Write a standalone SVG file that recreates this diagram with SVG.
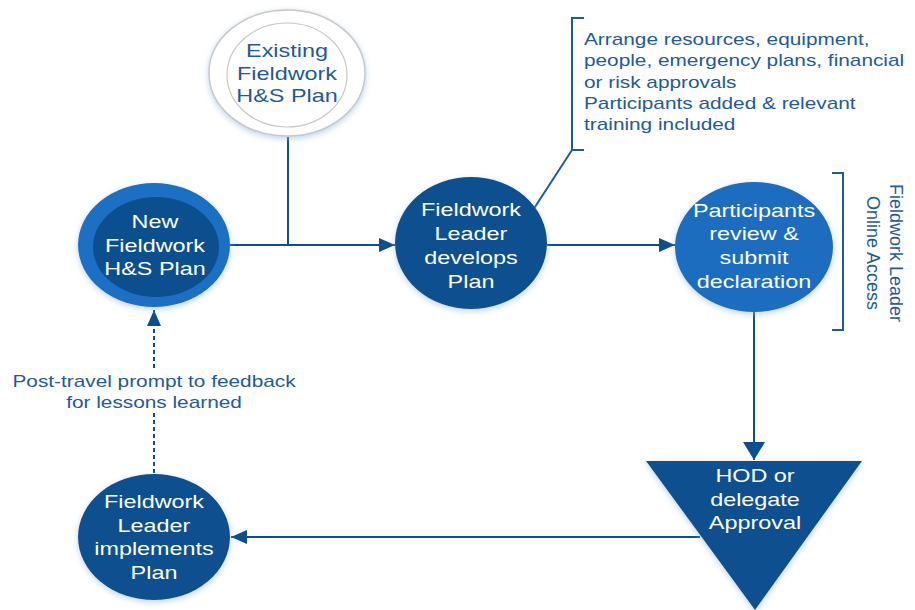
<svg xmlns="http://www.w3.org/2000/svg" width="915" height="610" viewBox="0 0 915 610">
<style>
.lbl{font-family:"Liberation Sans",Arial,sans-serif;font-size:18px;fill:#ffffff;text-anchor:middle}
.dk{fill:#1F5A99}
.ann{font-family:"Liberation Sans",Arial,sans-serif;font-size:16px;fill:#1F5A99}
.ln{fill:none;stroke:#0B4F8F;stroke-width:2}
.br{fill:none;stroke:#1F5A99;stroke-width:2}
</style>
<defs>
<marker id="ah" viewBox="0 0 16 14" refX="16" refY="7" markerWidth="16" markerHeight="14" markerUnits="userSpaceOnUse" orient="auto">
<path d="M0,0 L16,7 L0,14 Z" fill="#0B4F8F"/>
</marker>
<marker id="ahb" viewBox="0 0 18 22" refX="18" refY="11" markerWidth="18" markerHeight="22" markerUnits="userSpaceOnUse" orient="auto">
<path d="M0,0 L18,11 L0,22 Z" fill="#0B4F8F"/>
</marker>
<filter id="sh" x="-20%" y="-20%" width="140%" height="140%">
<feDropShadow dx="0" dy="2" stdDeviation="3" flood-color="#8fb6e0" flood-opacity="0.6"/>
</filter>
</defs>

<g id="connectors">
<line class="ln" x1="288" y1="137" x2="288" y2="245"/>
<line class="ln" x1="230" y1="245" x2="395" y2="245" marker-end="url(#ah)"/>
<line class="ln" x1="547" y1="245" x2="675" y2="245" marker-end="url(#ah)"/>
<line class="ln" x1="754" y1="312" x2="754" y2="460" stroke-width="3" marker-end="url(#ahb)"/>
<line class="ln" x1="700" y1="537" x2="231" y2="537" marker-end="url(#ah)"/>
<line class="ln" x1="154" y1="473" x2="154" y2="310" stroke-width="1.5" stroke-dasharray="4,3" marker-end="url(#ah)"/>
<line class="br" x1="572" y1="150" x2="533" y2="210"/>
</g>

<g id="existing">
<ellipse cx="287" cy="73" rx="78" ry="63" fill="#ffffff" stroke="#c8c8c8" stroke-width="1.5" filter="url(#sh)"/>
<ellipse cx="287" cy="75" rx="60" ry="52" fill="#ffffff" stroke="#c8c8c8" stroke-width="1.2"/>
<g transform="translate(287,0) scale(1.3,1)">
<text class="lbl dk" x="0" y="57">Existing</text>
<text class="lbl dk" x="0" y="80">Fieldwork</text>
<text class="lbl dk" x="0" y="102">H&amp;S Plan</text>
</g>
</g>

<g id="new-plan">
<ellipse cx="154" cy="245" rx="76" ry="62" fill="#1A6FC4" filter="url(#sh)"/>
<ellipse cx="156" cy="247" rx="63" ry="50" fill="#0B4F8F"/>
<g transform="translate(155,0) scale(1.3,1)">
<text class="lbl" x="0" y="228">New</text>
<text class="lbl" x="0" y="252">Fieldwork</text>
<text class="lbl" x="0" y="275">H&amp;S Plan</text>
</g>
</g>

<g id="develops">
<ellipse cx="471" cy="243" rx="76" ry="66" fill="#0B4F8F" filter="url(#sh)"/>
<g transform="translate(471,0) scale(1.3,1)">
<text class="lbl" x="0" y="216">Fieldwork</text>
<text class="lbl" x="0" y="240">Leader</text>
<text class="lbl" x="0" y="264">develops</text>
<text class="lbl" x="0" y="288">Plan</text>
</g>
</g>

<g id="annotation">
<path class="br" d="M584,18 L572,18 L572,150 L584,150"/>
<g transform="translate(584,0) scale(1.3,1)">
<text class="ann" x="0" y="45">Arrange resources, equipment,</text>
<text class="ann" x="0" y="66">people, emergency plans, financial</text>
<text class="ann" x="0" y="88">or risk approvals</text>
<text class="ann" x="0" y="109">Participants added &amp; relevant</text>
<text class="ann" x="0" y="130">training included</text>
</g>
</g>

<g id="participants">
<ellipse cx="754" cy="247" rx="79" ry="65" fill="#1B6DBF" filter="url(#sh)"/>
<g transform="translate(754,0) scale(1.3,1)">
<text class="lbl" x="0" y="217">Participants</text>
<text class="lbl" x="0" y="240">review &amp;</text>
<text class="lbl" x="0" y="264">submit</text>
<text class="lbl" x="0" y="288">declaration</text>
</g>
</g>

<g id="online-access">
<path class="br" d="M832,173 L843,173 L843,330 L832,330"/>
<g transform="translate(890,253) rotate(90)">
<text class="lbl dk" x="0" y="0">Fieldwork Leader</text>
<text class="lbl dk" x="0" y="23">Online Access</text>
</g>
</g>

<g id="hod">
<polygon points="646,461 862,461 755,610" fill="#0B4F8F" filter="url(#sh)"/>
<g transform="translate(755,0) scale(1.3,1)">
<text class="lbl" x="0" y="482">HOD or</text>
<text class="lbl" x="0" y="506">delegate</text>
<text class="lbl" x="0" y="529">Approval</text>
</g>
</g>

<g id="implements">
<ellipse cx="154" cy="537" rx="76" ry="63" fill="#0B4F8F" filter="url(#sh)"/>
<g transform="translate(154,0) scale(1.3,1)">
<text class="lbl" x="0" y="508">Fieldwork</text>
<text class="lbl" x="0" y="532">Leader</text>
<text class="lbl" x="0" y="555">implements</text>
<text class="lbl" x="0" y="579">Plan</text>
</g>
</g>

<g id="feedback-label">
<rect x="8" y="370" width="292" height="42" fill="#ffffff"/>
<g transform="translate(154,0) scale(1.3,1)">
<text class="ann" x="0" y="387" text-anchor="middle">Post-travel prompt to feedback</text>
<text class="ann" x="0" y="408" text-anchor="middle">for lessons learned</text>
</g>
</g>
</svg>
